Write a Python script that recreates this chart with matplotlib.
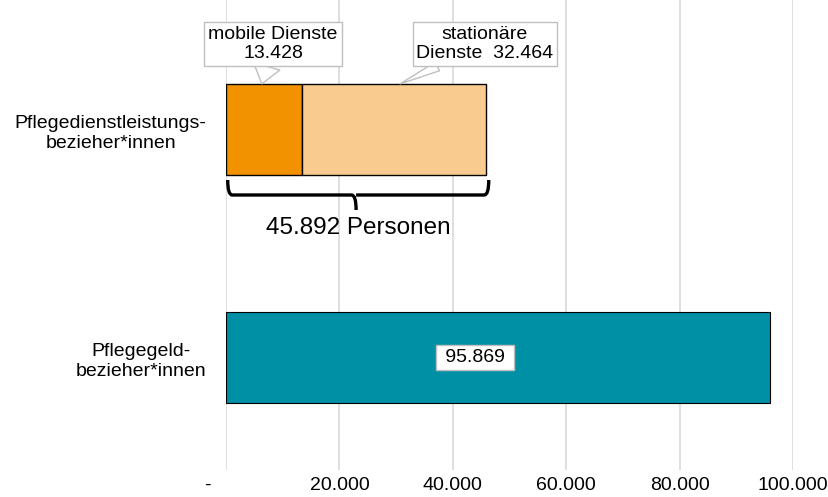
import matplotlib
matplotlib.use("Agg")
import matplotlib.pyplot as plt
from matplotlib.path import Path
from matplotlib.patches import PathPatch
from matplotlib.transforms import ScaledTranslation

plt.rcParams['font.family'] = ['Liberation Sans', 'DejaVu Sans']

categories = ["Pflegegeld-\nbezieher*innen", "Pflegedienstleistungs-\nbezieher*innen"]
mobile = 13428
stationaer = 32464
pflegegeld = 95869
total_dienst = mobile + stationaer
xticks = [0, 20000, 40000, 60000, 80000, 100000]
xticklabels = ["-", "20.000", "40.000", "60.000", "80.000", "100.000"]

c_orange = "#F39200"
c_light = "#FACB8F"
c_teal = "#0090A6"

fig = plt.figure(figsize=(8.29, 4.97), dpi=100)
ax = fig.add_axes([226/829, (497-470)/497, (793-226)/829, 470/497])

ypos = [0, 1]
h = 0.4
ax.barh(ypos[1], mobile, height=h, color=c_orange, edgecolor="black", linewidth=1.0, zorder=3)
ax.barh(ypos[1], stationaer, left=mobile, height=h, color=c_light, edgecolor="black", linewidth=1.0, zorder=3)
ax.barh(ypos[0], pflegegeld, height=h, color=c_teal, edgecolor="black", linewidth=0.8, zorder=3)

ytop = 1.568
ax.set_xlim(0, 100000)
ax.set_ylim(ytop - 470/228, ytop)
ax.set_xticks(xticks)
ax.set_xticklabels(xticklabels, fontsize=14)
ax.set_yticks(ypos)
ax.set_yticklabels(categories, fontsize=14, ha="right", multialignment="center", linespacing=1.25)
ax.tick_params(axis="y", length=0, pad=14)
ax.tick_params(axis="x", length=0, pad=5)
lbl0 = ax.get_xticklabels()[0]
lbl0.set_transform(lbl0.get_transform() + ScaledTranslation(-19/100, 0, fig.dpi_scale_trans))
for s in ax.spines.values():
    s.set_visible(False)
ax.grid(axis="x", color="#D9D9D9", linewidth=1.2, zorder=0)
ax.set_axisbelow(True)

# value label for Pflegegeld
ax.text(43900, ypos[0], " " + f"{pflegegeld:,}".replace(",", ".") + " ", ha="center", va="center",
        fontsize=14, zorder=5,
        bbox=dict(boxstyle="square,pad=0.22", fc="white", ec="#BFBFBF", lw=1))

# callouts
bar_top = ypos[1] + h / 2
box_y = ytop - 44/228
ax.annotate(f"mobile Dienste\n{mobile:,}".replace(",", "."),
            xy=(mobile * 0.47, bar_top), xytext=(8290, box_y),
            ha="center", va="center", fontsize=14, linespacing=1.15, zorder=6,
            bbox=dict(boxstyle="square,pad=0.2", fc="white", ec="#BFBFBF", lw=1),
            arrowprops=dict(arrowstyle="wedge,tail_width=1.4,shrink_factor=0.5",
                            fc="white", ec="#BFBFBF", lw=1, shrinkA=0, shrinkB=0))
ax.annotate(f"stationäre\nDienste  {stationaer:,}".replace(",", "."),
            xy=(mobile + stationaer * 0.532, bar_top), xytext=(45680, box_y),
            ha="center", va="center", fontsize=14, linespacing=1.15, zorder=6,
            bbox=dict(boxstyle="square,pad=0.2", fc="white", ec="#BFBFBF", lw=1),
            arrowprops=dict(arrowstyle="wedge,tail_width=0.5,shrink_factor=0.5",
                            fc="white", ec="#BFBFBF", lw=1, shrinkA=0, shrinkB=0))

# brace
y_top = ytop - 180/228
y_mid = ytop - 195/228
y_bot = ytop - 210/228
x0, x1 = 300, total_dienst + 450
xm = total_dienst / 2
r = 800
verts = [(x0, y_top), (x0, y_mid), (x0 + r, y_mid),
         (xm - r, y_mid), (xm, y_mid), (xm, y_bot),
         (xm, y_mid), (xm + r, y_mid),
         (x1 - r, y_mid), (x1, y_mid), (x1, y_top)]
codes = [Path.MOVETO, Path.CURVE3, Path.CURVE3,
         Path.LINETO, Path.CURVE3, Path.CURVE3,
         Path.MOVETO, Path.LINETO,
         Path.LINETO, Path.CURVE3, Path.CURVE3]
ax.add_patch(PathPatch(Path(verts, codes), fill=False, ec="black", lw=2.4, zorder=4,
                       capstyle="butt", joinstyle="round"))
ax.text(xm + 400, ytop - 228/228, f"{total_dienst:,} Personen".replace(",", "."),
        ha="center", va="center", fontsize=17.5, zorder=5)

fig.savefig("out.png", dpi=100)
